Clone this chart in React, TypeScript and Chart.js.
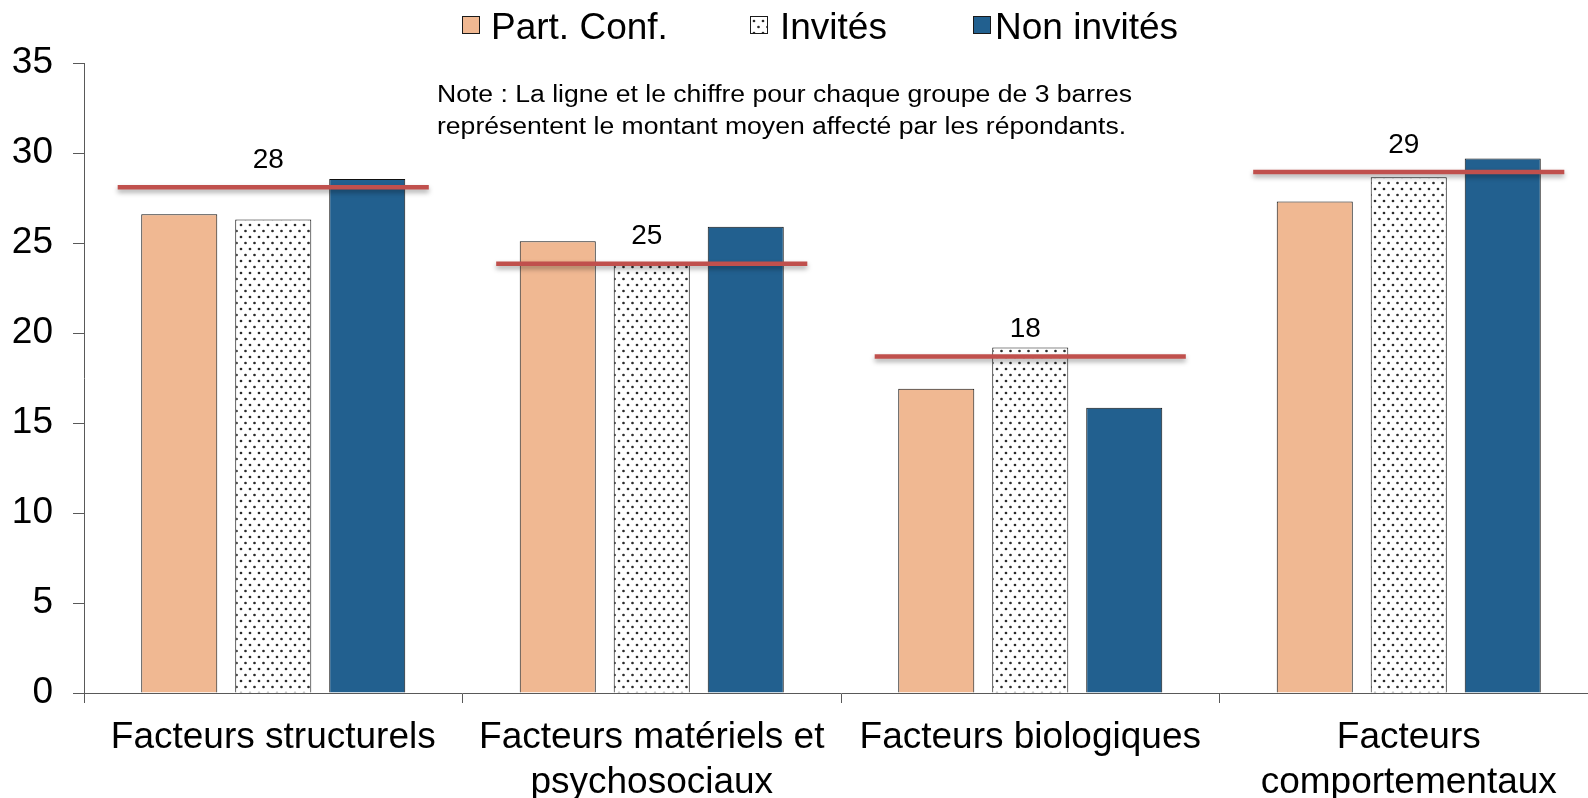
import React, { useEffect, useRef } from 'react';
import { Chart, registerables } from 'chart.js';

Chart.register(...registerables);

// ---- data ----
const categories: (string | string[])[] = [
  'Facteurs structurels',
  ['Facteurs matériels et', 'psychosociaux'],
  'Facteurs biologiques',
  ['Facteurs', 'comportementaux'],
];
const seriesNames = ['Part. Conf.', 'Invités', 'Non invités'];
const partConf = [26.6, 25.1, 16.9, 27.3];
const invites = [26.3, 23.9, 19.2, 28.65];
const nonInvites = [28.55, 25.9, 15.85, 29.7];
const meanValues = [28.1, 23.85, 18.7, 28.95];
const meanLabels = ['28', '25', '18', '29'];
const yMin = 0;
const yMax = 35;
const yStep = 5;
const noteLines = [
  'Note : La ligne et le chiffre pour chaque groupe de 3 barres',
  'représentent le montant moyen affecté par les répondants.',
];

const FONT = "'Liberation Sans', Arial, Helvetica, sans-serif";
const ORANGE = '#F0B892';
const BLUE = '#22608F';
const RED = '#C0504D';
const AXIS = '#595959';

function makeDotPattern(): CanvasPattern | string {
  const c = document.createElement('canvas');
  c.width = 9;
  c.height = 12;
  const g = c.getContext('2d');
  if (!g) return '#ddd';
  g.fillStyle = '#ffffff';
  g.fillRect(0, 0, 9, 12);
  g.fillStyle = '#2a2a2a';
  g.beginPath();
  g.arc(2.5, 3, 1.35, 0, Math.PI * 2);
  g.fill();
  g.beginPath();
  g.arc(7, 9, 1.35, 0, Math.PI * 2);
  g.fill();
  const p = g.createPattern(c, 'repeat');
  return p || '#ddd';
}

const meanLinePlugin = {
  id: 'meanLines',
  afterDatasetsDraw(chart: any) {
    const { ctx } = chart;
    const xs = chart.scales.x;
    const ys = chart.scales.y;
    const catW = xs.getPixelForValue(1) - xs.getPixelForValue(0);
    const half = catW * 0.411;
    meanValues.forEach((v, i) => {
      const cx = xs.getPixelForValue(i);
      const py = ys.getPixelForValue(v);
      ctx.save();
      ctx.shadowColor = 'rgba(0,0,0,0.35)';
      ctx.shadowBlur = 5;
      ctx.shadowOffsetY = 3;
      ctx.strokeStyle = RED;
      ctx.lineWidth = 4.5;
      ctx.beginPath();
      ctx.moveTo(cx - half, py);
      ctx.lineTo(cx + half, py);
      ctx.stroke();
      ctx.restore();
      ctx.save();
      ctx.fillStyle = '#000';
      ctx.font = `28px ${FONT}`;
      ctx.textAlign = 'center';
      ctx.textBaseline = 'middle';
      ctx.fillText(meanLabels[i], cx - 5, py - 27);
      ctx.restore();
    });
  },
};

const annotationsPlugin = {
  id: 'noteAndLegend',
  afterDraw(chart: any) {
    const { ctx } = chart;
    // note
    ctx.save();
    ctx.fillStyle = '#000';
    ctx.font = `23px ${FONT}`;
    ctx.textAlign = 'left';
    ctx.textBaseline = 'alphabetic';
    ctx.translate(437, 0);
    ctx.scale(1.155, 1);
    noteLines.forEach((t, i) => ctx.fillText(t, 0, 102 + i * 31.5));
    ctx.restore();
    // legend
    const boxX = [462, 750, 973];
    const textX = [491, 780, 995];
    ctx.save();
    ctx.font = `37px ${FONT}`;
    ctx.textBaseline = 'alphabetic';
    ctx.textAlign = 'left';
    chart.data.datasets.forEach((ds: any, i: number) => {
      const x = boxX[i];
      ctx.fillStyle = ds.backgroundColor;
      ctx.fillRect(x, 16, 18, 18);
      ctx.strokeStyle = '#1a1a1a';
      ctx.lineWidth = 1;
      ctx.strokeRect(x + 0.5, 16.5, 17, 17);
      ctx.fillStyle = '#000';
      ctx.fillText(ds.label, textX[i], 38.5);
    });
    ctx.restore();
  },
};

export default function App() {
  const ref = useRef<HTMLCanvasElement>(null);

  useEffect(() => {
    if (!ref.current) return;
    const dots = makeDotPattern();
    const common = {
      borderColor: '#111111',
      borderWidth: 1,
      categoryPercentage: 0.745,
      barPercentage: 0.809,
    };
    const chart = new Chart(ref.current, {
      type: 'bar',
      data: {
        labels: categories as any,
        datasets: [
          { label: seriesNames[0], data: partConf, backgroundColor: ORANGE, ...common },
          { label: seriesNames[1], data: invites, backgroundColor: dots as any, ...common },
          { label: seriesNames[2], data: nonInvites, backgroundColor: BLUE, ...common },
        ],
      },
      options: {
        animation: false,
        responsive: false,
        devicePixelRatio: 1,
        layout: { padding: { top: 63, left: 0, right: 2, bottom: 0 } },
        plugins: {
          legend: { display: false },
          tooltip: { enabled: false },
        },
        scales: {
          x: {
            type: 'category',
            offset: true,
            afterFit: (s: any) => {
              s.height = 105;
            },
            grid: {
              offset: true,
              drawOnChartArea: false,
              drawTicks: true,
              tickLength: 10,
              color: AXIS,
            },
            border: { display: true, color: AXIS, width: 1 },
            ticks: {
              color: '#000',
              padding: 13,
              maxRotation: 0,
              autoSkip: false,
              font: { family: FONT, size: 37, lineHeight: 1.2 },
            },
          },
          y: {
            min: yMin,
            max: yMax,
            afterFit: (s: any) => {
              s.width = 84;
            },
            grid: {
              drawOnChartArea: false,
              drawTicks: true,
              tickLength: 11,
              color: AXIS,
            },
            border: { display: true, color: AXIS, width: 1 },
            ticks: {
              stepSize: yStep,
              color: '#000',
              padding: 20,
              font: { family: FONT, size: 37 },
            },
          },
        },
      },
      plugins: [meanLinePlugin, annotationsPlugin],
    } as any);
    return () => chart.destroy();
  }, []);

  return (
    <div
      style={{
        position: 'fixed',
        left: 0,
        top: 0,
        width: 1588,
        height: 798,
        overflow: 'hidden',
        background: '#fff',
      }}
    >
      <canvas ref={ref} width={1600} height={798} style={{ width: 1600, height: 798, display: 'block' }} />
    </div>
  );
}
